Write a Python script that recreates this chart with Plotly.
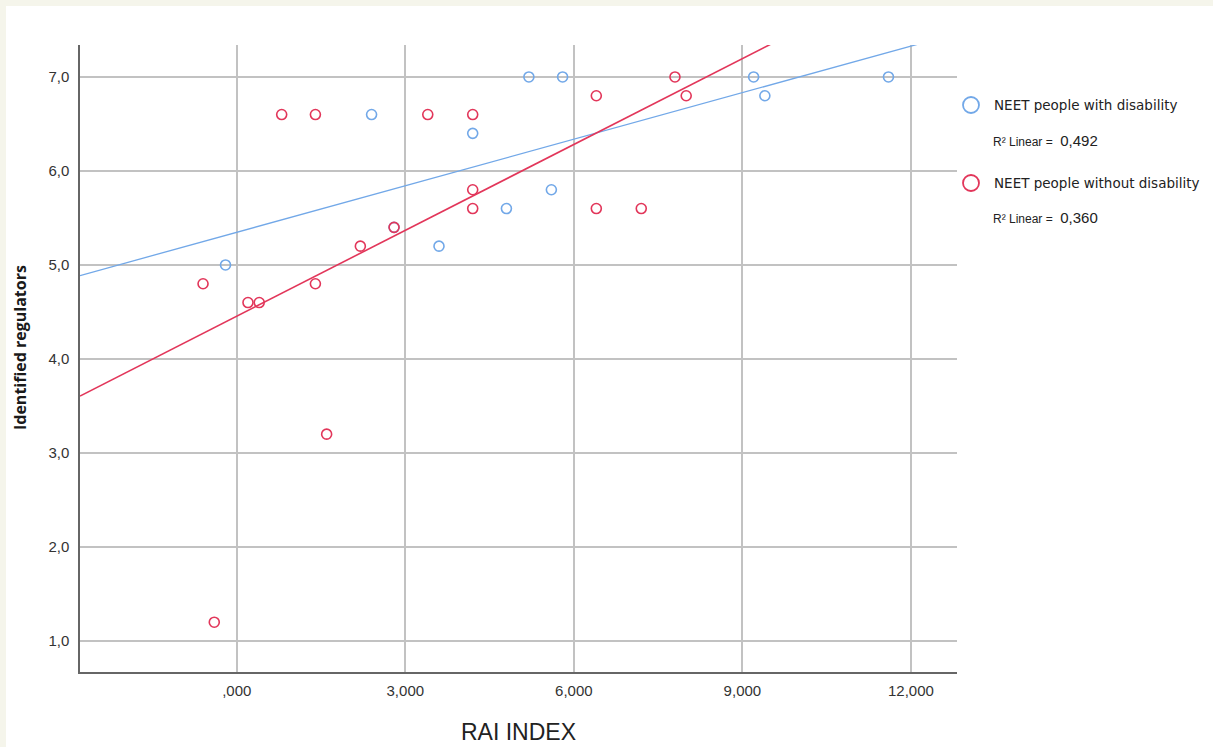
import numpy as np
import plotly.graph_objects as go

# Data
with_x = [-0.2, 2.4, 2.8, 3.6, 4.2, 4.8, 5.2, 5.6, 5.8, 9.2, 9.4, 11.6]
with_y = [5.0, 6.6, 5.4, 5.2, 6.4, 5.6, 7.0, 5.8, 7.0, 7.0, 6.8, 7.0]

without_x = [-0.6, -0.4, 0.2, 0.4, 0.8, 1.4, 1.4, 1.6, 2.2, 2.8, 3.4, 4.2, 4.2, 4.2, 6.4, 6.4, 7.2, 7.8, 8.0]
without_y = [4.8, 1.2, 4.6, 4.6, 6.6, 6.6, 4.8, 3.2, 5.2, 5.4, 6.6, 6.6, 5.8, 5.6, 6.8, 5.6, 5.6, 7.0, 6.8]

x_ticks = [0, 3, 6, 9, 12]
x_tick_labels = [",000", "3,000", "6,000", "9,000", "12,000"]
y_ticks = [1, 2, 3, 4, 5, 6, 7]
y_tick_labels = ["1,0", "2,0", "3,0", "4,0", "5,0", "6,0", "7,0"]

series_names = ["NEET people with disability", "NEET people without disability"]
r2_labels = ["0,492", "0,360"]

BLUE = "#72a8e8"
RED = "#e2365a"
BEIGE = "#f5f5eb"

XR = [-2.79, 12.82]
YR = [0.67, 7.34]

fig = go.Figure()

# regression lines
for xs, ys, col, w in [(with_x, with_y, BLUE, 1.3), (without_x, without_y, RED, 1.6)]:
    slope, icpt = np.polyfit(xs, ys, 1)
    lx = np.array(XR)
    fig.add_trace(go.Scatter(x=lx, y=slope * lx + icpt, mode="lines",
                             line=dict(color=col, width=w), showlegend=False,
                             hoverinfo="skip"))

fig.add_trace(go.Scatter(x=with_x, y=with_y, mode="markers", name=series_names[0],
                         marker=dict(symbol="circle-open", size=10, color=BLUE,
                                     line=dict(width=1.6, color=BLUE)),
                         showlegend=False))
fig.add_trace(go.Scatter(x=without_x, y=without_y, mode="markers", name=series_names[1],
                         marker=dict(symbol="circle-open", size=10, color=RED,
                                     line=dict(width=1.6, color=RED)),
                         showlegend=False))

W, H = 1213, 747
L, R, T, B = 80, 256, 45, 75
PW, PH = W - L - R, H - T - B


def px2paper(px, py):
    return (px - L) / PW, (H - B - py) / PH


shapes = []
# white panel over beige page
x0, y1 = px2paper(6, 6)
x1, y0 = px2paper(W + 5, H + 5)
shapes.append(dict(type="rect", xref="paper", yref="paper", x0=x0, x1=x1, y0=y0, y1=y1,
                   fillcolor="white", line=dict(width=0), layer="below"))

annotations = []
legend_rows = [(105, BLUE, 140), (183, RED, 218)]
for (cy, col, ry), name, r2 in zip(legend_rows, series_names, r2_labels):
    cx0, cy0 = px2paper(963, cy + 8)
    cx1, cy1 = px2paper(979, cy - 8)
    shapes.append(dict(type="circle", xref="paper", yref="paper", x0=cx0, x1=cx1,
                       y0=cy0, y1=cy1, line=dict(color=col, width=1.8)))
    tx, ty = px2paper(992, cy)
    annotations.append(dict(xref="paper", yref="paper", x=tx, y=ty, xanchor="left",
                            yanchor="middle", showarrow=False, text=name,
                            font=dict(family="DejaVu Sans", size=13.5, color="#222")))
    tx, ty = px2paper(991, ry)
    annotations.append(dict(xref="paper", yref="paper", x=tx, y=ty, xanchor="left",
                            yanchor="middle", showarrow=False,
                            text="<span style='font-size:12px'>R² Linear = </span> " + r2,
                            font=dict(family="Liberation Sans", size=15, color="#222")))

# axis titles
tx, ty = px2paper(518, 732)
annotations.append(dict(xref="paper", yref="paper", x=tx, y=ty, xanchor="center",
                        yanchor="middle", showarrow=False, text="RAI INDEX",
                        font=dict(family="Liberation Sans", size=23, color="#222")))
tx, ty = px2paper(20, 348)
annotations.append(dict(xref="paper", yref="paper", x=tx, y=ty, xanchor="center",
                        yanchor="middle", showarrow=False, textangle=-90,
                        text="<b>Identified regulators</b>",
                        font=dict(family="Open Sans", size=16, color="#1a1a1a")))

fig.update_layout(
    width=W, height=H,
    margin=dict(l=L, r=R, t=T, b=B, pad=0),
    paper_bgcolor=BEIGE,
    plot_bgcolor="rgba(0,0,0,0)",
    shapes=shapes,
    annotations=annotations,
    showlegend=False,
    xaxis=dict(range=XR, tickvals=x_ticks, ticktext=x_tick_labels, automargin=False,
               showgrid=True, gridcolor="#c2c2c2", gridwidth=1.5,
               zeroline=False, showline=True, linecolor="#666", linewidth=1.5,
               ticks="", ticklabelstandoff=4,
               tickfont=dict(family="Liberation Sans", size=15, color="#333")),
    yaxis=dict(range=YR, tickvals=y_ticks, ticktext=y_tick_labels, automargin=False,
               showgrid=True, gridcolor="#c2c2c2", gridwidth=1.5,
               zeroline=False, showline=True, linecolor="#666", linewidth=1.5,
               ticks="", ticklabelstandoff=6,
               tickfont=dict(family="Liberation Sans", size=15, color="#333")),
)

fig.write_html("out.html", config={"displayModeBar": False},
               post_script="document.body.style.margin='0';document.body.style.background='" + BEIGE + "';")
